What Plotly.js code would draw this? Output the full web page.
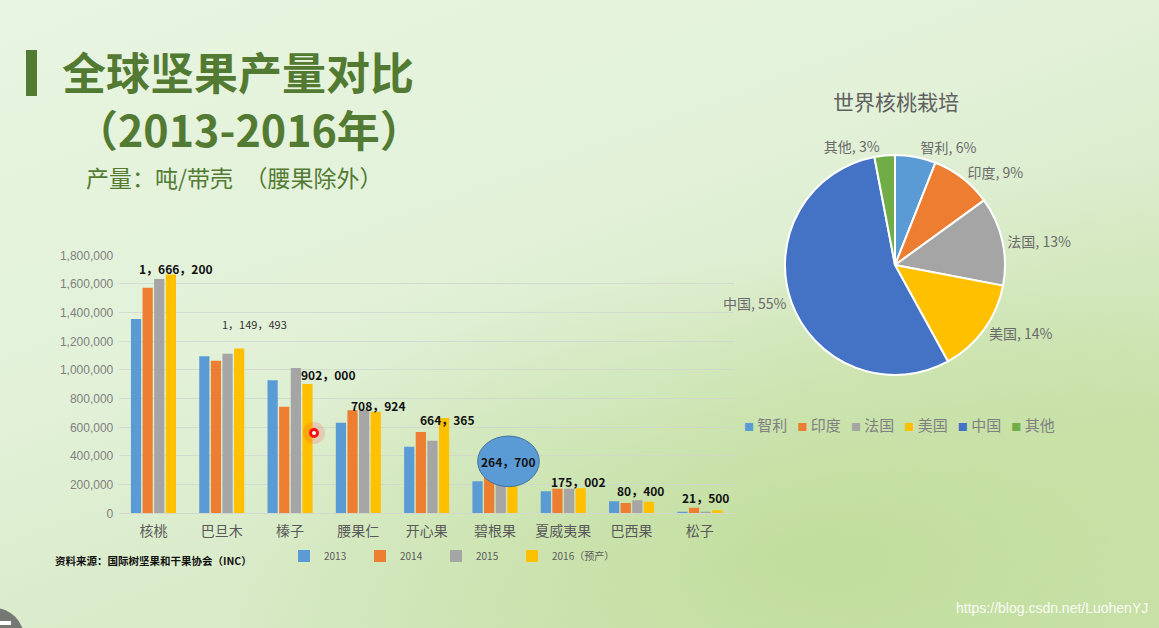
<!DOCTYPE html>
<html>
<head>
<meta charset="utf-8">
<script src="https://cdn.plot.ly/plotly-3.0.1.min.js"></script>
<style>
html,body{margin:0;padding:0;width:1159px;height:628px;overflow:hidden;}
body{background:
  radial-gradient(ellipse 600px 300px at 820px 560px, rgba(190,220,150,0.85), rgba(190,220,150,0) 100%),
  radial-gradient(ellipse 500px 260px at 1150px 420px, rgba(200,225,165,0.7), rgba(200,225,165,0) 100%),
  linear-gradient(160deg, #e8f5e1 0%, #e2f1d8 40%, #d5e8c2 75%, #cbe2b0 100%);}
#chart{width:1159px;height:628px;}
</style>
</head>
<body>
<div id="chart"></div>
<script>
// ---------- data ----------
const categories = ['核桃','巴旦木','榛子','腰果仁','开心果','碧根果','夏威夷果','巴西果','松子'];
const seriesNames = ['2013','2014','2015','2016（预产）'];
const v2013 = [1356000,1095000,928000,632000,465000,223000,153000,84000,11000];
const v2014 = [1574000,1065000,744000,719000,567000,285000,172000,72000,39000];
const v2015 = [1635000,1114000,1014000,720000,507000,250000,172000,91000,11000];
const v2016 = [1666200,1149493,902000,708924,664365,264700,175002,80400,21500];
const barColors = ['#5B9BD5','#ED7D31','#A5A5A5','#FFC000'];
const valueLabels = ['1，666，200','1，149，493','902，000','708，924','664，365','264，700','175，002','80，400','21，500'];

const pieLabels = ['智利','印度','法国','美国','中国','其他'];
const pieValues = [6,9,13,14,55,3];
const pieColors = ['#5B9BD5','#ED7D31','#A5A5A5','#FFC000','#4472C4','#70AD47'];

// ---------- helpers (pixel -> paper) ----------
const W = 1159, H = 628;
const px = x => x / W;
const py = y => 1 - y / H;

const barSeries = [v2013, v2014, v2015, v2016];
const legendWidths = [31, 31, 31, 80];
const traces = barSeries.map((vals, i) => ({
  type: 'bar',
  name: seriesNames[i],
  x: categories,
  y: vals,
  marker: {color: barColors[i]},
  legendwidth: legendWidths[i],
  xaxis: 'x', yaxis: 'y',
  hoverinfo: 'x+y+name'
}));

traces.push({
  type: 'pie',
  labels: pieLabels,
  values: pieValues,
  sort: false,
  direction: 'clockwise',
  rotation: 0,
  marker: {colors: pieColors, line: {color: '#ffffff', width: 2}},
  textposition: 'outside',
  texttemplate: '%{label}, %{value}%',
  textfont: {family: 'Noto Sans CJK SC', size: 14, color: '#6a6a6a'},
  domain: {x: [px(785), px(1005)], y: [py(375), py(155)]},
  showlegend: false,
  hoverinfo: 'label+value'
});

// value label annotations (offsets in pixels from category centres)
const labelShift = [23,33,38,20,20,13,15,9,6];
const labelY = [1707000,1321000,967000,754000,651000,363000,221000,160000,107000];
const annotations = categories.map((c, i) => ({
  xref: 'x', yref: 'y', x: c, y: labelY[i], xshift: labelShift[i],
  text: i === 1 ? valueLabels[i] : '<b>' + valueLabels[i] + '</b>',
  showarrow: false,
  font: {family: 'Noto Sans CJK SC', size: i === 1 ? 11 : 12, color: i === 1 ? '#333333' : '#111111'}
}));

// titles
annotations.push(
  {xref:'paper', yref:'paper', x:px(60), y:py(71), xanchor:'left', yanchor:'middle', showarrow:false,
   text:'<b>全球坚果产量对比</b>', font:{family:'Noto Sans CJK SC', size:44, color:'#537a32'}},
  {xref:'paper', yref:'paper', x:px(73), y:py(128), xanchor:'left', yanchor:'middle', showarrow:false,
   text:'<b>（2013-2016年）</b>', font:{family:'Noto Sans CJK SC', size:43, color:'#537a32'}},
  {xref:'paper', yref:'paper', x:px(84), y:py(177), xanchor:'left', yanchor:'middle', showarrow:false,
   text:'产量：吨/带壳　（腰果除外）', font:{family:'Noto Sans CJK SC', size:23, color:'#537a32'}},
  {xref:'paper', yref:'paper', x:px(53), y:py(560), xanchor:'left', yanchor:'middle', showarrow:false,
   text:'<b>资料来源：国际树坚果和干果协会（INC）</b>', font:{family:'Noto Sans CJK SC', size:10.5, color:'#111111'}},
  {xref:'paper', yref:'paper', x:px(896), y:py(101), xanchor:'center', yanchor:'middle', showarrow:false,
   text:'世界核桃栽培', font:{family:'Noto Sans CJK SC', size:21, color:'#606060'}},
  {xref:'paper', yref:'paper', x:px(1150), y:py(608), xanchor:'right', yanchor:'middle', showarrow:false,
   text:'https://blog.csdn.net/LuohenYJ', font:{family:'Liberation Sans', size:14, color:'rgba(255,255,255,0.92)'}}
);

// pie legend built from the pie arrays
const pieLegendText = pieLabels.map((l, i) =>
  `<span style="font-size:10px;color:${pieColors[i]}">■</span>&nbsp;${l}`).join('&nbsp;&nbsp;&nbsp;');
annotations.push({xref:'paper', yref:'paper', x:px(742), y:py(424), xanchor:'left', yanchor:'middle',
  showarrow:false, text: pieLegendText, font:{family:'Noto Sans CJK SC', size:15, color:'#808080'}});

const shapes = [
  // title bar
  {type:'rect', xref:'paper', yref:'paper', x0:px(26), x1:px(37), y0:py(96), y1:py(50),
   fillcolor:'#537a32', line:{width:0}},
  // ellipse behind 264,700
  {type:'circle', xref:'x', yref:'y', x0:4.747, x1:5.649, y0:186000, y1:539000,
   fillcolor:'#5B9BD5', line:{color:'#41719C', width:1}, layer:'above'},
  // red cursor highlight
  {type:'circle', xref:'paper', yref:'paper', x0:px(303), x1:px(325), y0:py(444), y1:py(422),
   fillcolor:'rgba(255,60,60,0.18)', line:{width:0}},
  {type:'circle', xref:'paper', yref:'paper', x0:px(309), x1:px(319), y0:py(438), y1:py(428),
   fillcolor:'#ff1010', line:{width:0}},
  {type:'circle', xref:'paper', yref:'paper', x0:px(312), x1:px(316), y0:py(435), y1:py(431),
   fillcolor:'#ffffff', line:{width:0}},
  // bottom-left control button
  {type:'circle', xref:'paper', yref:'paper', x0:px(-36), x1:px(24), y0:py(668), y1:py(608),
   fillcolor:'rgba(100,100,100,0.85)', line:{width:0}},
  {type:'rect', xref:'paper', yref:'paper', x0:px(0), x1:px(11), y0:py(625), y1:py(621),
   fillcolor:'#ffffff', line:{width:0}}
];

const layout = {
  width: W, height: H, autosize: false,
  margin: {l:0, r:0, t:0, b:0, pad:0},
  paper_bgcolor: 'rgba(0,0,0,0)',
  plot_bgcolor: 'rgba(0,0,0,0)',
  barmode: 'group',
  bargap: 0.32,
  bargroupgap: 0.12,
  xaxis: {
    domain: [px(119.3), px(734)],
    type: 'category',
    showgrid: false, zeroline: false,
    showline: true, linecolor: '#d2d8cc', linewidth: 1,
    ticks: '', ticklabelstandoff: 5,
    tickfont: {family: 'Noto Sans CJK SC', size: 14, color: '#595959'}
  },
  yaxis: {
    domain: [py(513.3), py(255.3)],
    range: [0, 1800000],
    dtick: 200000,
    tickformat: ',d',
    showgrid: true, gridcolor: 'rgba(205,212,205,0.75)', gridwidth: 1,
    zeroline: false, showline: false, ticks: '', ticklabelstandoff: 5,
    tickfont: {family: 'Liberation Sans', size: 12, color: '#7f7f7f'}
  },
  showlegend: true,
  legend: {
    orientation: 'h', x: px(284), y: py(556), xanchor: 'left', yanchor: 'middle',
    bgcolor: 'rgba(0,0,0,0)', borderwidth: 0,
    font: {family: 'Noto Sans CJK SC', size: 10, color: '#595959'},
    itemclick: false
  },
  annotations: annotations,
  shapes: shapes
};

Plotly.newPlot('chart', traces, layout, {displayModeBar: false, staticPlot: true});
</script>
</body>
</html>
